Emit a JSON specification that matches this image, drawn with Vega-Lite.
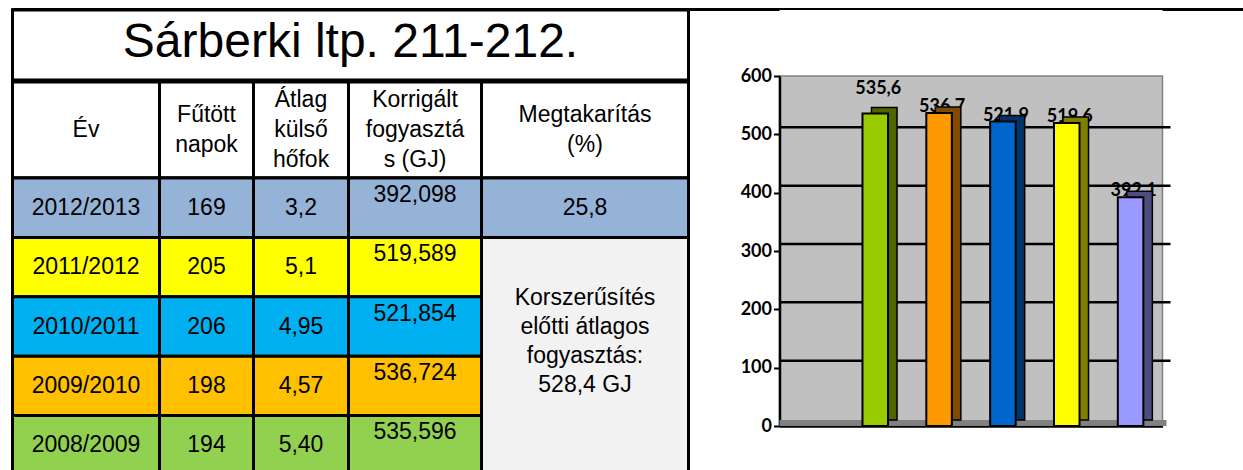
{
  "$schema": "https://vega.github.io/schema/vega-lite/v6.json",
  "background": "white",
  "padding": {"left": 9.5, "top": 8, "right": 0, "bottom": 0},
  "bounds": "flush",
  "spacing": -1.5,
  "config": {
    "view": {"stroke": "black", "strokeWidth": 3},
    "text": {"font": "Liberation Sans", "fontSize": 23, "color": "black"},
    "locale": {"number": {"decimal": ",", "thousands": " ", "grouping": [3], "currency": ["", " Ft"]}}
  },
  "datasets": {
    "tabla": [
      {"ev": "2012/2013", "napok": "169", "hofok": "3,2", "fogyasztas": "392,098", "megtakaritas": "25,8"},
      {"ev": "2011/2012", "napok": "205", "hofok": "5,1", "fogyasztas": "519,589"},
      {"ev": "2010/2011", "napok": "206", "hofok": "4,95", "fogyasztas": "521,854"},
      {"ev": "2009/2010", "napok": "198", "hofok": "4,57", "fogyasztas": "536,724"},
      {"ev": "2008/2009", "napok": "194", "hofok": "5,40", "fogyasztas": "535,596"}
    ],
    "grafikon": [
      {"ev": "2008/2009", "ertek": 535.6},
      {"ev": "2009/2010", "ertek": 536.7},
      {"ev": "2010/2011", "ertek": 521.9},
      {"ev": "2011/2012", "ertek": 519.6},
      {"ev": "2012/2013", "ertek": 392.1}
    ],
    "racs": [{"v": 100}, {"v": 200}, {"v": 300}, {"v": 400}, {"v": 500}]
  },
  "vconcat": [
    {
      "width": 1230, "height": 1,
      "view": {"stroke": "black", "strokeWidth": 2, "fill": "black"},
      "data": {"values": []},
      "mark": "rule",
      "encoding": {}
    },
    {
      "spacing": 47,
      "resolve": {"scale": {"x": "independent", "y": "independent", "color": "independent", "fill": "independent"}},
      "hconcat": [
        {
          "spacing": -3,
          "vconcat": [
            {
              "width": 676, "height": 70,
              "view": {"stroke": "black", "strokeWidth": 3, "fill": "white"},
              "data": {"values": [{"cim": "Sárberki ltp. 211-212."}]},
              "mark": {"type": "text", "fontSize": 48, "dy": -2},
              "encoding": {"text": {"field": "cim"}}
            },
            {
              "columns": 5,
              "spacing": 0,
              "bounds": "flush",
              "concat": [
                {"width": 147, "height": 96, "view": {"stroke": "black", "strokeWidth": 3, "fill": "white"}, "data": {"values": [{"t": "Év"}]}, "mark": {"type": "text", "lineBreak": "\n", "lineHeight": 30}, "encoding": {"text": {"field": "t"}}},
                {"width": 94, "height": 96, "view": {"stroke": "black", "strokeWidth": 3, "fill": "white"}, "data": {"values": [{"t": "Fűtött\nnapok"}]}, "mark": {"type": "text", "lineBreak": "\n", "lineHeight": 30, "dy": -15}, "encoding": {"text": {"field": "t"}}},
                {"width": 95, "height": 96, "view": {"stroke": "black", "strokeWidth": 3, "fill": "white"}, "data": {"values": [{"t": "Átlag\nkülső\nhőfok"}]}, "mark": {"type": "text", "lineBreak": "\n", "lineHeight": 30, "dy": -30}, "encoding": {"text": {"field": "t"}}},
                {"width": 133, "height": 96, "view": {"stroke": "black", "strokeWidth": 3, "fill": "white"}, "data": {"values": [{"t": "Korrigált\nfogyasztá\ns (GJ)"}]}, "mark": {"type": "text", "lineBreak": "\n", "lineHeight": 30, "dy": -30}, "encoding": {"text": {"field": "t"}}},
                {"width": 207, "height": 96, "view": {"stroke": "black", "strokeWidth": 3, "fill": "white"}, "data": {"values": [{"t": "Megtakarítás\n(%)"}]}, "mark": {"type": "text", "lineBreak": "\n", "lineHeight": 30, "dy": -15}, "encoding": {"text": {"field": "t"}}},
                {
                  "width": 147, "height": 297,
                  "data": {"name": "tabla"},
                  "encoding": {"y": {"field": "ev", "type": "nominal", "sort": null, "axis": null, "scale": {"domain": ["2012/2013", "2011/2012", "2010/2011", "2009/2010", "2008/2009"], "paddingInner": 0, "paddingOuter": 0}}},
                  "layer": [
                    {"mark": {"type": "rect", "stroke": "black", "strokeWidth": 3}, "encoding": {"color": {"field": "ev", "type": "nominal", "legend": null, "scale": {"domain": ["2012/2013", "2011/2012", "2010/2011", "2009/2010", "2008/2009"], "range": ["#95B3D7", "#FFFF00", "#00B0F0", "#FFC000", "#92D050"]}}}},
                    {"mark": {"type": "text"}, "encoding": {"text": {"field": "ev"}}}
                  ]
                },
                {
                  "width": 94, "height": 297,
                  "data": {"name": "tabla"},
                  "encoding": {"y": {"field": "ev", "type": "nominal", "sort": null, "axis": null, "scale": {"domain": ["2012/2013", "2011/2012", "2010/2011", "2009/2010", "2008/2009"], "paddingInner": 0, "paddingOuter": 0}}},
                  "layer": [
                    {"mark": {"type": "rect", "stroke": "black", "strokeWidth": 3}, "encoding": {"color": {"field": "ev", "type": "nominal", "legend": null, "scale": {"domain": ["2012/2013", "2011/2012", "2010/2011", "2009/2010", "2008/2009"], "range": ["#95B3D7", "#FFFF00", "#00B0F0", "#FFC000", "#92D050"]}}}},
                    {"mark": {"type": "text"}, "encoding": {"text": {"field": "napok"}}}
                  ]
                },
                {
                  "width": 95, "height": 297,
                  "data": {"name": "tabla"},
                  "encoding": {"y": {"field": "ev", "type": "nominal", "sort": null, "axis": null, "scale": {"domain": ["2012/2013", "2011/2012", "2010/2011", "2009/2010", "2008/2009"], "paddingInner": 0, "paddingOuter": 0}}},
                  "layer": [
                    {"mark": {"type": "rect", "stroke": "black", "strokeWidth": 3}, "encoding": {"color": {"field": "ev", "type": "nominal", "legend": null, "scale": {"domain": ["2012/2013", "2011/2012", "2010/2011", "2009/2010", "2008/2009"], "range": ["#95B3D7", "#FFFF00", "#00B0F0", "#FFC000", "#92D050"]}}}},
                    {"mark": {"type": "text"}, "encoding": {"text": {"field": "hofok"}}}
                  ]
                },
                {
                  "width": 133, "height": 297,
                  "data": {"name": "tabla"},
                  "encoding": {"y": {"field": "ev", "type": "nominal", "sort": null, "axis": null, "scale": {"domain": ["2012/2013", "2011/2012", "2010/2011", "2009/2010", "2008/2009"], "paddingInner": 0, "paddingOuter": 0}}},
                  "layer": [
                    {"mark": {"type": "rect", "stroke": "black", "strokeWidth": 3}, "encoding": {"color": {"field": "ev", "type": "nominal", "legend": null, "scale": {"domain": ["2012/2013", "2011/2012", "2010/2011", "2009/2010", "2008/2009"], "range": ["#95B3D7", "#FFFF00", "#00B0F0", "#FFC000", "#92D050"]}}}},
                    {"mark": {"type": "text", "dy": -13}, "encoding": {"text": {"field": "fogyasztas"}}}
                  ]
                },
                {
                  "width": 207, "height": 297,
                  "view": {"fill": "#F2F2F2"},
                  "encoding": {"y": {"field": "ev", "type": "nominal", "sort": null, "axis": null, "scale": {"domain": ["2012/2013", "2011/2012", "2010/2011", "2009/2010", "2008/2009"], "paddingInner": 0, "paddingOuter": 0}}},
                  "layer": [
                    {"data": {"name": "tabla"}, "transform": [{"filter": "datum.megtakaritas"}], "mark": {"type": "rect", "stroke": "black", "strokeWidth": 3}, "encoding": {"color": {"field": "ev", "type": "nominal", "legend": null, "scale": {"domain": ["2012/2013", "2011/2012", "2010/2011", "2009/2010", "2008/2009"], "range": ["#95B3D7", "#FFFF00", "#00B0F0", "#FFC000", "#92D050"]}}}},
                    {"data": {"name": "tabla"}, "transform": [{"filter": "datum.megtakaritas"}], "mark": {"type": "text"}, "encoding": {"text": {"field": "megtakaritas"}}},
                    {"data": {"values": [{"ev": "2010/2011", "t": "Korszerűsítés\nelőtti átlagos\nfogyasztás:\n528,4 GJ"}]}, "mark": {"type": "text", "lineBreak": "\n", "lineHeight": 29, "dy": -29}, "encoding": {"text": {"field": "t"}}}
                  ]
                }
              ]
            }
          ]
        },
        {
          "spacing": 55,
          "vconcat": [
            {
              "width": 383, "height": 1,
              "view": {"stroke": null, "fill": "white"},
              "data": {"values": []},
              "mark": "rule",
              "encoding": {}
            },
            {
              "width": 383, "height": 350,
              "view": {"fill": "#C0C0C0", "stroke": "#808080", "strokeWidth": 1.5},
              "data": {"name": "grafikon"},
              "layer": [
                {
                  "data": {"name": "racs"},
                  "mark": {"type": "rule", "color": "black", "strokeWidth": 2.5, "xOffset": 8, "yOffset": -7},
                  "encoding": {
                    "y": {"field": "v", "type": "quantitative", "scale": {"domain": [0, 600], "nice": false},
                      "axis": {"values": [0, 100, 200, 300, 400, 500, 600], "title": null, "grid": false, "labelFont": "Lato", "labelFontWeight": "bold", "labelFontSize": 18, "labelColor": "black", "tickColor": "black", "tickWidth": 2, "tickSize": 6, "domainColor": "black", "domainWidth": 2.5, "labelPadding": 2}}
                  }
                },
                {
                  "data": {"values": [{"v": 0}]},
                  "mark": {"type": "rule", "color": "#808080", "strokeWidth": 6, "yOffset": -3, "xOffset": 4},
                  "encoding": {"y": {"field": "v", "type": "quantitative"}}
                },
                {
                  "transform": [{"filter": "datum.ev === '2008/2009'"}],
                  "mark": {"type": "text", "font": "Lato", "fontWeight": "bold", "fontSize": 18, "dy": -25, "dx": 3},
                  "encoding": {
                    "x": {"field": "ev", "type": "nominal", "sort": null, "scale": {"domain": ["", "2008/2009", "2009/2010", "2010/2011", "2011/2012", "2012/2013"], "paddingInner": 0.6, "paddingOuter": 0.3}, "axis": {"labels": false, "ticks": false, "title": null, "domainColor": "black", "domainWidth": 2.5}},
                    "y": {"field": "ertek", "type": "quantitative"},
                    "text": {"field": "ertek", "type": "quantitative", "format": ".1f"}
                  }
                },
                {
                  "transform": [{"filter": "datum.ev !== '2008/2009'"}],
                  "mark": {"type": "text", "font": "Lato", "fontWeight": "bold", "fontSize": 18, "dy": -6, "dx": 3},
                  "encoding": {
                    "x": {"field": "ev", "type": "nominal", "sort": null},
                    "y": {"field": "ertek", "type": "quantitative"},
                    "text": {"field": "ertek", "type": "quantitative", "format": ".1f"}
                  }
                },
                {
                  "mark": {"type": "bar", "xOffset": 9, "yOffset": -6, "stroke": "black", "strokeWidth": 1.5},
                  "encoding": {
                    "x": {"field": "ev", "type": "nominal", "sort": null},
                    "y": {"field": "ertek", "type": "quantitative"},
                    "fill": {"field": "ev", "type": "nominal", "legend": null, "scale": {"domain": ["2008/2009", "2009/2010", "2010/2011", "2011/2012", "2012/2013"], "range": ["#4F6600", "#804C00", "#003366", "#808000", "#4D4D80"]}}
                  }
                },
                {
                  "mark": {"type": "bar", "stroke": "black", "strokeWidth": 2},
                  "encoding": {
                    "x": {"field": "ev", "type": "nominal", "sort": null},
                    "y": {"field": "ertek", "type": "quantitative"},
                    "color": {"field": "ev", "type": "nominal", "legend": null, "scale": {"domain": ["2008/2009", "2009/2010", "2010/2011", "2011/2012", "2012/2013"], "range": ["#99CC00", "#FF9900", "#0066CC", "#FFFF00", "#9999FF"]}}
                  }
                }
              ]
            }
          ]
        }
      ]
    }
  ]
}
